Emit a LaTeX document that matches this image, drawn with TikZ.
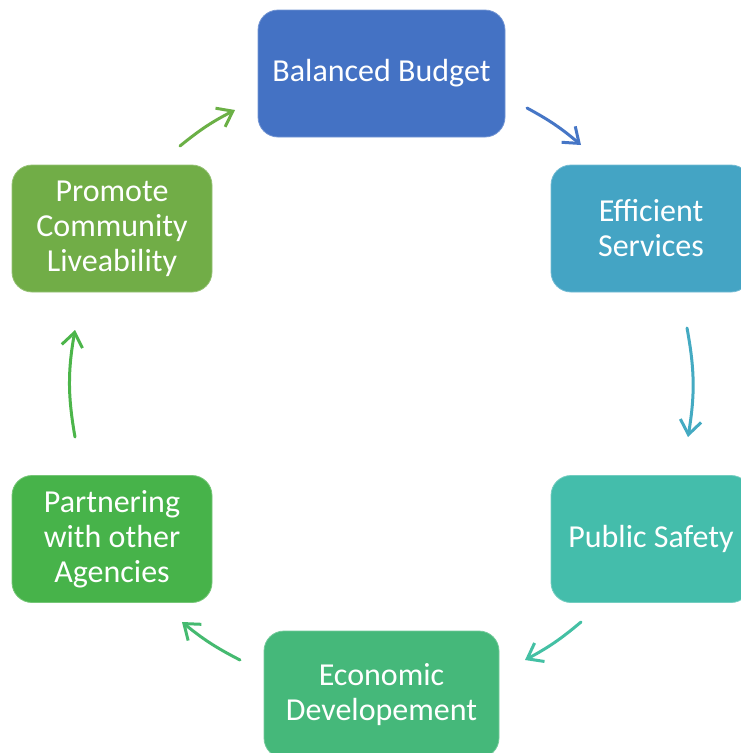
\documentclass[tikz,border=0pt]{standalone}
\usepackage{fontspec}
\setmainfont{Carlito}
\usetikzlibrary{arrows.meta}
\definecolor{cA}{HTML}{4472C4}
\definecolor{cB}{HTML}{44A4C4}
\definecolor{cC}{HTML}{44BDAB}
\definecolor{cD}{HTML}{45B87A}
\definecolor{cE}{HTML}{47B34A}
\definecolor{cF}{HTML}{71AD47}
\definecolor{aA}{HTML}{4676C6}
\definecolor{aB}{HTML}{44AAC2}
\definecolor{aC}{HTML}{44C0A4}
\definecolor{aD}{HTML}{45BA70}
\definecolor{aE}{HTML}{4CB54A}
\definecolor{aF}{HTML}{6BB046}
\tikzset{
  box/.style={rounded corners=20pt, minimum width=#1, minimum height=127pt,
    text=white, align=center, inner sep=0pt,
    font=\fontsize{32}{35}\selectfont},
  box/.default=200pt,
  cyc/.style={line width=3pt, line cap=round,
    -{Straight Barb[length=14pt,width=21pt,line width=3pt]}},
}
\begin{document}
\begin{tikzpicture}[x=1pt,y=-1pt]
\useasboundingbox (0,0) rectangle (741,753);
\node[box=247pt, fill=cA, draw=cA!75!white, line width=0.8pt] (bb) at (381.5,73.5) {Balanced Budget};
\node[box, fill=cB, draw=cB!75!white, line width=0.8pt] (es) at (651,228.5) {Efficient\\Services};
\node[box, fill=cC, draw=cC!75!white, line width=0.8pt] (ps) at (651,539) {Public Safety};
\node[box=235pt, fill=cD, draw=cD!75!white, line width=0.8pt] (ed) at (381.5,694.5) {Economic\\Developement};
\node[box, fill=cE, draw=cE!75!white, line width=0.8pt] (pa) at (112,539) {Partnering\\with other\\Agencies};
\node[box, fill=cF, draw=cF!75!white, line width=0.8pt] (pc) at (112,228.5) {Promote\\Community\\Liveability};
% arrow end points on circle centre (381,384), radius 311
\coordinate (a1s) at (527,108);
\coordinate (a1e) at (581,145);
\coordinate (a2s) at (687,328);
\coordinate (a2e) at (688,437);
\coordinate (a3s) at (581,622);
\coordinate (a3e) at (525,660);
\coordinate (a4s) at (240,660);
\coordinate (a4e) at (182,622);
\coordinate (a5s) at (75,437);
\coordinate (a5e) at (75,330);
\coordinate (a6s) at (180,146);
\coordinate (a6e) at (235,110);
\draw[cyc, aA] (a1s) to[bend left=6] (a1e);
\draw[cyc, aB] (a2s) to[bend left=10] (a2e);
\draw[cyc, aC] (a3s) to[bend left=6] (a3e);
\draw[cyc, aD] (a4s) to[bend left=6] (a4e);
\draw[cyc, aE] (a5s) to[bend left=10] (a5e);
\draw[cyc, aF] (a6s) to[bend left=6] (a6e);
\end{tikzpicture}
\end{document}
